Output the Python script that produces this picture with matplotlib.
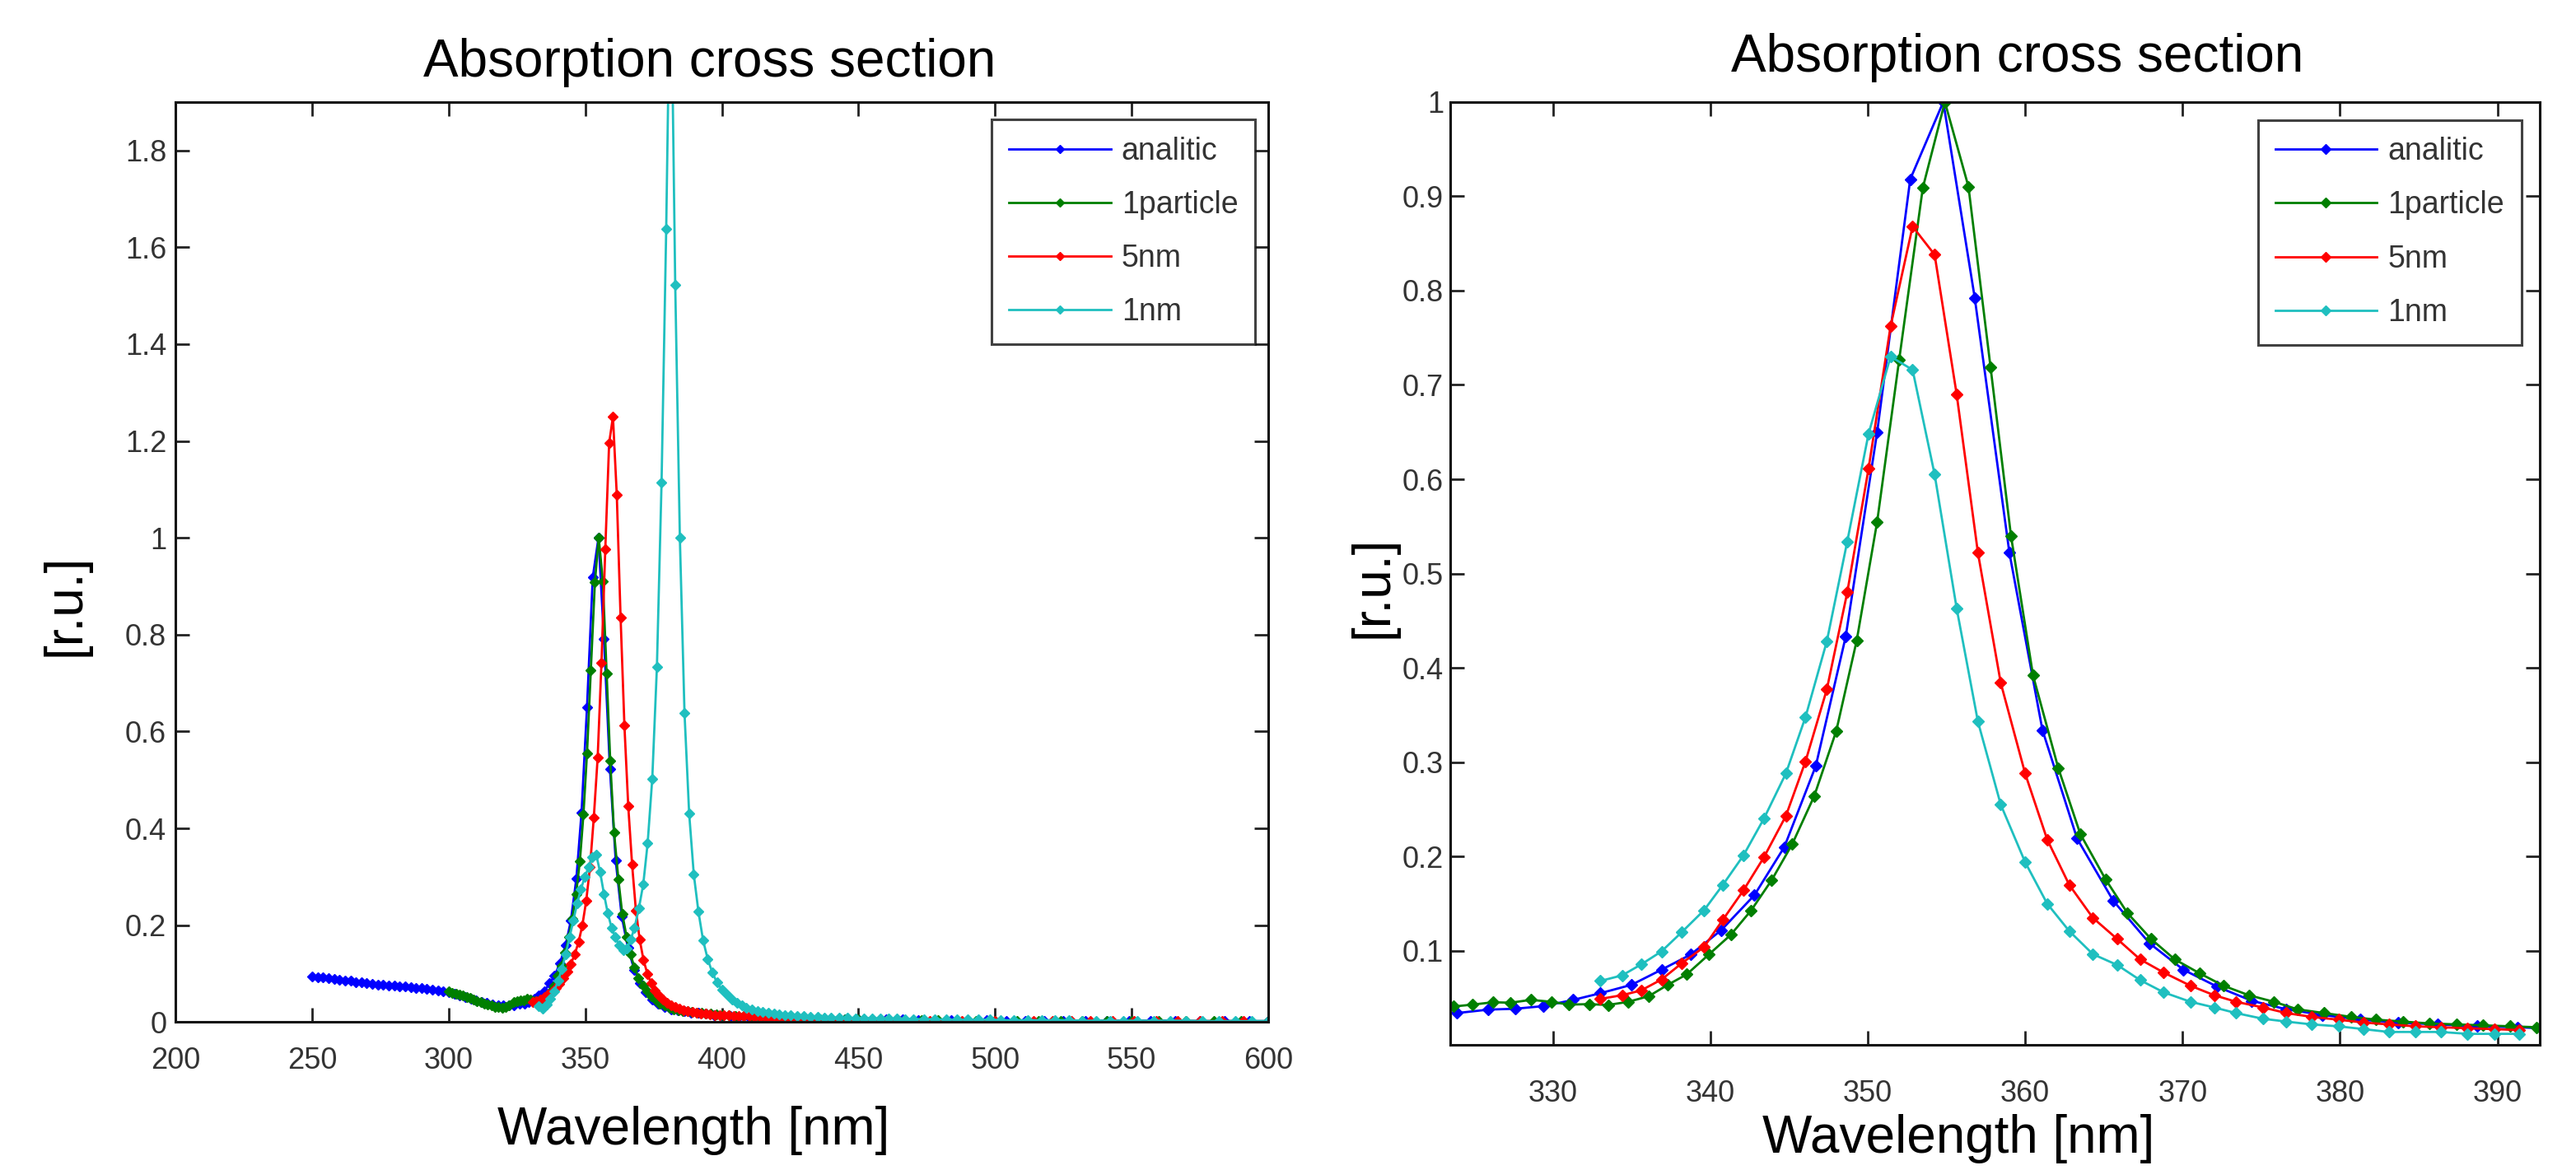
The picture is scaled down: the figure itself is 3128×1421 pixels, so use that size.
import matplotlib
matplotlib.use("Agg")
import matplotlib.pyplot as plt
from matplotlib.ticker import FuncFormatter

# ---------------- data ----------------
# analitic (shared by both panels)
wl_analitic = [250, 252, 254, 256, 258, 260, 262, 264, 266, 268, 270, 272, 274, 276, 278, 280,
               282, 284, 286, 288, 290, 292, 294, 296, 298, 300, 302, 304, 306, 308, 310, 312,
               314, 316, 318, 320, 322,
               323.9, 325.9, 327.6, 329.4, 331.3, 333.0, 335.0, 336.9, 338.75, 340.7, 342.8,
               344.7, 346.7, 348.6, 350.6, 352.7, 354.8, 356.8, 359.0, 361.1, 363.3, 365.6,
               367.9, 370.05, 372.2, 374.4, 376.6, 378.9, 381.3, 383.7, 386.2, 388.7, 391.3,
               394, 397, 400, 403, 406, 410, 414, 418, 422, 426, 430, 435, 440, 445, 450, 455,
               460, 466, 472, 478, 484, 490, 497, 504, 511, 518, 525, 533, 541, 549, 557, 566,
               575, 584, 593, 600]
cs_analitic = [0.095, 0.093, 0.092, 0.091, 0.089, 0.088, 0.086, 0.085, 0.083, 0.082, 0.080, 0.079,
               0.078, 0.077, 0.076, 0.075, 0.074, 0.073, 0.072, 0.071, 0.070, 0.069, 0.067, 0.066,
               0.064, 0.062, 0.058, 0.055, 0.051, 0.048, 0.045, 0.042, 0.039, 0.037, 0.035, 0.034,
               0.034,
               0.034, 0.0377, 0.0386, 0.0414, 0.048, 0.055, 0.064, 0.080, 0.096, 0.122, 0.159,
               0.210, 0.296, 0.433, 0.650, 0.918, 1.0, 0.792, 0.522, 0.334, 0.219, 0.153,
               0.108, 0.080, 0.062, 0.047, 0.038, 0.032, 0.027, 0.024, 0.022, 0.020, 0.019,
               0.017, 0.015, 0.013, 0.012, 0.011, 0.010, 0.009, 0.008, 0.008, 0.007, 0.007, 0.006,
               0.006, 0.006, 0.005, 0.005, 0.005, 0.005, 0.004, 0.004, 0.004, 0.004, 0.004, 0.003,
               0.003, 0.003, 0.003, 0.003, 0.003, 0.003, 0.003, 0.003, 0.002, 0.002, 0.002, 0.002]

# 1particle (shared by both panels)
wl_1particle = [300.0, 301.3, 302.6, 303.9, 305.2, 306.5, 307.8, 309.1, 310.4, 311.7, 313.0, 314.3,
                315.6, 316.9, 318.2, 319.5, 320.8, 322.1,
                323.7, 324.9, 326.2, 327.3, 328.6, 329.9, 331.0, 332.3, 333.5, 334.8, 336.1, 337.3,
                338.5, 339.9, 341.3, 342.6, 343.9, 345.2, 346.6, 348.0, 349.3, 350.6, 352.0, 353.5,
                354.9, 356.4, 357.8, 359.1, 360.5, 362.1, 363.5, 365.1, 366.5, 368.0, 369.5, 371.1,
                372.6, 374.2, 375.8, 377.3, 379.0, 380.7, 382.3, 384.0, 385.7, 387.4, 389.1, 390.8,
                392.5,
                394.2, 396, 398, 400, 402.5, 405, 408, 411, 414, 417, 420, 424, 428, 432, 436, 440,
                445, 450, 455, 461, 467, 473, 479, 486, 493, 500, 508, 516, 524, 532, 541, 550,
                560, 570, 580, 590, 600]
cs_1particle = [0.063, 0.060, 0.058, 0.057, 0.055, 0.052, 0.050, 0.047, 0.044, 0.041, 0.038, 0.036,
                0.034, 0.032, 0.031, 0.030, 0.031, 0.035,
                0.041, 0.043, 0.0455, 0.045, 0.048, 0.046, 0.043, 0.0435, 0.0426, 0.046, 0.052,
                0.064, 0.075, 0.096, 0.117, 0.143, 0.175, 0.213, 0.264, 0.333, 0.429, 0.555, 0.727,
                0.909, 1.0, 0.910, 0.719, 0.540, 0.392, 0.294, 0.224, 0.176, 0.140, 0.1125, 0.091,
                0.076, 0.063, 0.053, 0.046, 0.038, 0.034, 0.030, 0.027, 0.025, 0.023, 0.022, 0.021,
                0.020, 0.019,
                0.018, 0.017, 0.016, 0.015, 0.014, 0.013, 0.012, 0.011, 0.010, 0.009, 0.008, 0.008,
                0.007, 0.007, 0.006, 0.006, 0.005, 0.005, 0.005, 0.004, 0.004, 0.004, 0.004, 0.003,
                0.003, 0.003, 0.003, 0.003, 0.003, 0.002, 0.002, 0.002, 0.002, 0.002, 0.002, 0.002,
                0.002]

# 5nm, full range panel
wl_5nm_full = [330.7, 332.1, 333.5, 334.9, 336.3, 337.7, 339.1, 340.5, 341.9, 343.3, 344.7, 346.1,
               347.5, 348.9, 350.3, 351.7, 353.1, 354.5, 355.9, 357.3, 358.7, 360.1, 361.5, 362.9,
               364.3, 365.7, 367.1, 368.5, 369.9, 371.3, 372.7, 374.1, 375.5, 377.0, 378.5, 380.0,
               381.5, 383.0, 384.5, 386.0, 387.6, 389.2, 390.8, 392.4, 394.0, 395.7, 397.4, 399.1,
               400.8, 402.5, 404.3, 406.1, 408.0, 410.0, 412.0, 414.0, 416.0, 418.0, 420.0, 422.5,
               425.0, 427.5, 430.0, 433.0, 436.0, 439.0, 442.0, 446.0, 450.0, 455, 460, 465, 470,
               476, 482, 488, 494, 500, 507, 514, 521, 528, 535, 543, 551, 559, 567, 575, 583, 591]
cs_5nm_full = [0.042, 0.044, 0.047, 0.051, 0.056, 0.062, 0.070, 0.079, 0.090, 0.104, 0.120, 0.140,
               0.165, 0.200, 0.250, 0.320, 0.423, 0.546, 0.742, 0.977, 1.195, 1.250, 1.089, 0.835,
               0.612, 0.446, 0.326, 0.231, 0.170, 0.128, 0.100, 0.080, 0.066, 0.055, 0.046, 0.040,
               0.035, 0.031, 0.028, 0.025, 0.023, 0.021, 0.019, 0.018, 0.017, 0.016, 0.015, 0.015,
               0.014, 0.014, 0.013, 0.013, 0.012, 0.012, 0.011, 0.011, 0.010, 0.009, 0.008, 0.007,
               0.006, 0.005, 0.004, 0.004, 0.003, 0.003, 0.003, 0.003, 0.002, 0.002, 0.002, 0.002,
               0.002, 0.002, 0.002, 0.002, 0.002, 0.002, 0.002, 0.002, 0.002, 0.002, 0.002, 0.002,
               0.002, 0.002, 0.002, 0.002, 0.002, 0.002]

# 1nm, full range panel
wl_1nm_full = [333.0, 334.4, 335.8, 337.2, 338.6, 340.0, 341.4, 342.8, 344.2, 345.6, 347.0, 348.4,
               349.8, 351.2, 352.6, 354.0, 355.4, 356.8, 358.2, 359.6, 361.0, 362.4, 363.8, 365.2,
               366.6, 368.0, 369.6, 371.2, 372.8, 374.5, 376.2, 377.9, 379.6, 381.2, 382.9, 384.6,
               386.3, 388.0, 389.7, 391.4, 393.1, 394.8, 396.5, 398.2, 400.0, 401.8, 403.6, 405.4,
               407.2, 409.0, 411, 413, 415, 417, 419, 421, 423, 425, 427.5, 430, 432.5, 435, 437.5,
               440, 443, 446, 449, 452, 455, 458, 461, 464, 467, 470, 474, 478, 482, 486, 490, 494,
               498, 502, 507, 512, 517, 522, 527, 532, 537, 542, 547, 552, 558, 564, 570, 576, 582,
               588, 594, 600]
cs_1nm_full = [0.033, 0.028, 0.036, 0.048, 0.064, 0.085, 0.110, 0.140, 0.175, 0.210, 0.245, 0.275,
               0.300, 0.320, 0.340, 0.345, 0.310, 0.265, 0.225, 0.195, 0.175, 0.158, 0.148, 0.152,
               0.170, 0.195, 0.235, 0.285, 0.369, 0.503, 0.734, 1.115, 1.638, 2.250, 1.523, 1.000,
               0.638, 0.431, 0.305, 0.228, 0.169, 0.130, 0.102, 0.082, 0.067, 0.056, 0.047, 0.040,
               0.034, 0.030, 0.026, 0.023, 0.021, 0.019, 0.017, 0.016, 0.015, 0.014, 0.013, 0.012,
               0.011, 0.011, 0.010, 0.010, 0.009, 0.009, 0.008, 0.008, 0.008, 0.007, 0.007, 0.007,
               0.006, 0.006, 0.006, 0.006, 0.005, 0.005, 0.005, 0.005, 0.005, 0.004, 0.004, 0.004,
               0.004, 0.004, 0.004, 0.003, 0.003, 0.003, 0.003, 0.003, 0.003, 0.003, 0.003, 0.002,
               0.002, 0.002, 0.002, 0.002]

# 5nm, zoomed panel
wl_5nm_zoom = [333.0, 334.4, 335.6, 336.9, 338.2, 339.6, 340.8, 342.1, 343.4, 344.8, 346.05, 347.4,
               348.7, 350.05, 351.45, 352.85, 354.25, 355.65, 357.0, 358.45, 360.0, 361.4, 362.8,
               364.3, 365.85, 367.3, 368.8, 370.5, 372.0, 373.4, 375.1, 376.6, 378.2, 379.9, 381.5,
               383.1, 384.8, 386.4, 388.1, 389.8, 391.4]
cs_5nm_zoom = [0.049, 0.053, 0.058, 0.0696, 0.087, 0.104, 0.133, 0.164, 0.199, 0.243, 0.301, 0.377,
               0.480, 0.611, 0.762, 0.868, 0.838, 0.690, 0.522, 0.384, 0.288, 0.218, 0.170, 0.135,
               0.1125, 0.091, 0.077, 0.063, 0.053, 0.046, 0.040, 0.034, 0.030, 0.027, 0.024, 0.022,
               0.020, 0.019, 0.018, 0.017, 0.016]

# 1nm, zoomed panel
wl_1nm_zoom = wl_5nm_zoom
cs_1nm_zoom = [0.068, 0.074, 0.0855, 0.0994, 0.120, 0.143, 0.170, 0.201, 0.240, 0.288, 0.348, 0.428,
               0.534, 0.648, 0.730, 0.716, 0.605, 0.463, 0.343, 0.255, 0.194, 0.150, 0.121, 0.0965,
               0.085, 0.069, 0.056, 0.046, 0.040, 0.034, 0.028, 0.025, 0.022, 0.020, 0.017, 0.014,
               0.014, 0.014, 0.012, 0.012, 0.012]

labels = ["analitic", "1particle", "5nm", "1nm"]
colors = ["#0000ff", "#007f00", "#ff0000", "#1fbfbf"]

left_xticks = [200, 250, 300, 350, 400, 450, 500, 550, 600]
left_yticks = [0, 0.2, 0.4, 0.6, 0.8, 1.0, 1.2, 1.4, 1.6, 1.8]
right_xticks = [330, 340, 350, 360, 370, 380, 390]
right_yticks = [0.1, 0.2, 0.3, 0.4, 0.5, 0.6, 0.7, 0.8, 0.9, 1.0]

# ---------------- figure ----------------
plt.rcParams["font.family"] = ["Liberation Sans", "DejaVu Sans"]
W, H = 3128, 1421
fig = plt.figure(figsize=(W / 100, H / 100), dpi=100)
fig.patch.set_facecolor("white")

ax1 = fig.add_axes([0.0682, 0.1264, 0.4241, 0.7865])
ax2 = fig.add_axes([0.5631, 0.1067, 0.4229, 0.8062])

fmt = FuncFormatter(lambda v, p: "%g" % round(v, 3))

def style(ax, xt, yt, padx, pady):
    for s in ax.spines.values():
        s.set_linewidth(2.2)
        s.set_color("#111111")
    ax.tick_params(direction="in", length=12, width=2.0, colors="#222222",
                   top=True, right=True, labelsize=26, labelcolor="#333333")
    ax.tick_params(axis="x", pad=padx)
    ax.tick_params(axis="y", pad=pady)
    ax.set_xticks(xt)
    ax.set_yticks(yt)
    ax.xaxis.set_major_formatter(fmt)
    ax.yaxis.set_major_formatter(fmt)

series_left = [(wl_analitic, cs_analitic), (wl_1particle, cs_1particle),
               (wl_5nm_full, cs_5nm_full), (wl_1nm_full, cs_1nm_full)]
series_right = [(wl_analitic, cs_analitic), (wl_1particle, cs_1particle),
                (wl_5nm_zoom, cs_5nm_zoom), (wl_1nm_zoom, cs_1nm_zoom)]

for (x, y), c, lab in zip(series_left, colors, labels):
    ax1.plot(x, y, color=c, lw=2.0, marker="D", ms=6.5, mec=c, mfc=c, label=lab)
for (x, y), c, lab in zip(series_right, colors, labels):
    ax2.plot(x, y, color=c, lw=2.0, marker="D", ms=7.5, mec=c, mfc=c, label=lab)

ax1.set_xlim(200, 600)
ax1.set_ylim(0, 1.9)
ax2.set_xlim(323.5, 392.7)
ax2.set_ylim(0.0, 1.0)
style(ax1, left_xticks, left_yticks, 21, 8)
style(ax2, right_xticks, right_yticks, 30, 6)

for ax, anchor in ((ax1, (0.988, 0.981)), (ax2, (0.983, 0.981))):
    leg = ax.legend(loc="upper right", bbox_to_anchor=anchor, fontsize=27,
                    frameon=True, fancybox=False, edgecolor="#111111",
                    handlelength=3.3, handletextpad=0.35, labelspacing=0.78,
                    borderpad=0.55, borderaxespad=0.0, markerscale=0.8)
    leg.get_frame().set_linewidth(2.2)
    for t in leg.get_texts():
        t.set_color("#333333")

fig.text(0.2755, 0.9466, "Absorption cross section", fontsize=46, ha="center", va="center")
fig.text(0.7832, 0.9508, "Absorption cross section", fontsize=46, ha="center", va="center")
fig.text(0.2691, 0.0337, "Wavelength [nm]", fontsize=46, ha="center", va="center")
fig.text(0.7602, 0.0267, "Wavelength [nm]", fontsize=46, ha="center", va="center")
fig.text(0.0255, 0.4831, "[r.u.]", fontsize=46, ha="center", va="center", rotation=90)
fig.text(0.5332, 0.4986, "[r.u.]", fontsize=46, ha="center", va="center", rotation=90)

fig.savefig("out.png", dpi=100, facecolor="white")
